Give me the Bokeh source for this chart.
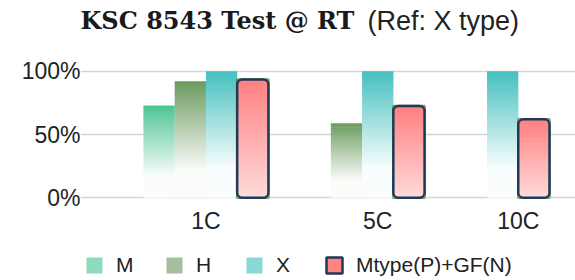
import numpy as np
from bokeh.plotting import figure
from bokeh.models import (ColumnDataSource, Range1d, FixedTicker, PrintfTickFormatter,
                          Legend, LegendItem, Label)
from bokeh.embed import file_html
from bokeh.resources import INLINE

# ---------------- data ----------------
categories = ["1C", "5C", "10C"]
series_names = ["M", "H", "X", "Mtype(P)+GF(N)"]
m_vals = [73, None, None]
h_vals = [92, 59, None]
x_vals = [100, 100, 100]
mtype_vals = [93.5, 72.5, 62]
y_ticks = [0, 50, 100]

title_main = "KSC 8543 Test @ RT"
title_sub = "(Ref: X type)"

# ---------------- style ----------------
top_colors = ["#4CC393", "#6B9A5E", "#43BFBE"]
mt_top, mt_bottom = "#FF7E7E", "#FFDADA"
mt_border = "#1E3A56"
GAP = 2.0
NSLICE = 48
FONT = "Liberation Sans"


def hex2rgb(h):
    h = h.lstrip("#")
    return np.array([int(h[i:i + 2], 16) for i in (0, 2, 4)], dtype=float)


def mix(c1, c2, t):
    a, b = hex2rgb(c1), hex2rgb(c2)
    c = a * (1 - t) + b * t
    return "#%02x%02x%02x" % tuple(int(round(v)) for v in c)


# --------- dodge layout computed from the data (null values skipped) ---------
series = [m_vals, h_vals, x_vals, mtype_vals]
bars = {k: {"left": [], "right": [], "top": []} for k in range(len(series))}
centers = []
pos = 0.0
for ci, cat in enumerate(categories):
    start = pos
    for si, vals in enumerate(series):
        v = vals[ci]
        if v is None:
            continue
        bars[si]["left"].append(pos)
        bars[si]["right"].append(pos + 1)
        bars[si]["top"].append(v)
        pos += 1
    centers.append((start + pos) / 2)
    pos += GAP
total = pos - GAP


def slices(si):
    """Vertical gradient: each bar cut into thin slices, listed top-down."""
    d = {"left": [], "right": [], "bottom": [], "top": [], "color": []}
    for l, r, t in zip(bars[si]["left"], bars[si]["right"], bars[si]["top"]):
        for j in reversed(range(NSLICE)):
            b0 = t * j / NSLICE
            b1 = min(t, t * (j + 1) / NSLICE + t * 0.4 / NSLICE)
            frac = (j + 0.5) / NSLICE
            if si < 3:
                s = min(0.97, max(0.0, (1 - frac) / 0.8))
                col = mix(top_colors[si], "#FFFFFF", s)
            else:
                col = mix(mt_top, mt_bottom, 1 - frac)
            d["left"].append(l)
            d["right"].append(r)
            d["bottom"].append(b0)
            d["top"].append(b1)
            d["color"].append(col)
    return ColumnDataSource(d)


W, H = 575, 280
LEFT = 80                      # frame starts at x=80 and fills the rest of the canvas
BAR_PX = 31.23                 # pixel width of one bar
frame_w = W - LEFT
x0 = -(143 - LEFT) / BAR_PX    # left padding so the first group starts at x=143
y_px = 1.2657                  # pixels per percent
AXIS_Y = -1.5                  # value sitting at the visual bottom of the chart area
AXIS_PX = 199.2                # its distance from the top of the canvas

p = figure(width=W, height=H, output_backend="svg", toolbar_location=None,
           x_range=Range1d(x0, x0 + frame_w / BAR_PX),
           y_range=Range1d(AXIS_Y - (H - AXIS_PX) / y_px, AXIS_Y + AXIS_PX / y_px),
           min_border_left=LEFT, min_border_right=0, min_border_top=0,
           min_border_bottom=0)
p.outline_line_color = None
p.background_fill_color = "white"
p.border_fill_color = "white"

renderers = []
for si in range(3):
    r = p.quad(left="left", right="right", bottom="bottom", top="top",
               fill_color="color", line_color=None, source=slices(si))
    renderers.append(r)

# Mtype bars: gradient + rounded navy outline
mt_src = ColumnDataSource(dict(left=bars[3]["left"], right=bars[3]["right"],
                               top=bars[3]["top"], bottom=[0] * len(bars[3]["top"])))
p.quad(left="left", right="right", bottom="bottom", top="top", source=mt_src,
       fill_color=None, line_color="#5E7F47", line_width=2.5, line_alpha=0.8)
r_mt = p.quad(left="left", right="right", bottom="bottom", top="top",
              fill_color="color", line_color=None, source=slices(3))
r_mt_out = p.quad(left="left", right="right", bottom="bottom", top="top", source=mt_src,
                  fill_color=None, line_color=mt_border, line_width=2.5,
                  border_radius=5)

# ---------------- axes ----------------
p.xgrid.visible = False
p.ygrid.grid_line_color = "#D5D5D5"
p.ygrid.grid_line_width = 1.6
p.ygrid.bounds = (-(143 - 116) / BAR_PX, x0 + frame_w / BAR_PX)

p.yaxis.ticker = FixedTicker(ticks=y_ticks)
p.yaxis.formatter = PrintfTickFormatter(format="%d%%")
p.xaxis.ticker = FixedTicker(ticks=centers)
p.xaxis.major_label_overrides = {c: cat for c, cat in zip(centers, categories)}
p.xaxis.fixed_location = AXIS_Y
for ax in (p.xaxis[0], p.yaxis[0]):
    ax.axis_line_color = None
    ax.major_tick_line_color = None
    ax.minor_tick_line_color = None
    ax.major_label_text_font = FONT
    ax.major_label_text_font_size = "23px"
    ax.major_label_text_color = "#222222"
p.yaxis.major_label_standoff = -6
p.xaxis.major_label_standoff = 2

# ---------------- legend ----------------
items = []
for si in range(3):
    items.append(LegendItem(label=series_names[si], renderers=[renderers[si]],
                            index=int(NSLICE * 0.3)))
items.append(LegendItem(label=series_names[3], renderers=[r_mt, r_mt_out], index=2))
legend = Legend(items=items, orientation="horizontal", location=(84 - LEFT, 3),
                glyph_width=20, glyph_height=20, label_standoff=12, spacing=28,
                padding=0, margin=0, border_line_color=None,
                background_fill_alpha=0, label_text_font=FONT,
                label_text_font_size="21px", label_text_color="#222222",
                label_height=20)
p.add_layout(legend, "center")

# ---------------- title (inside the frame's top strip) ----------------
base_y = H - 20
p.add_layout(Label(x=0, y=base_y, x_units="screen", y_units="screen", text=title_main,
                   text_font="DejaVu Serif", text_font_style="bold",
                   text_font_size="24px", text_color="#1a1a1a",
                   text_baseline="alphabetic", text_align="left"))
p.add_layout(Label(x=367 - LEFT, y=base_y, x_units="screen", y_units="screen",
                   text=title_sub, text_font=FONT, text_font_size="27px",
                   text_color="#222222", text_baseline="alphabetic",
                   text_align="left"))

open("out.html", "w").write(file_html(p, INLINE))
